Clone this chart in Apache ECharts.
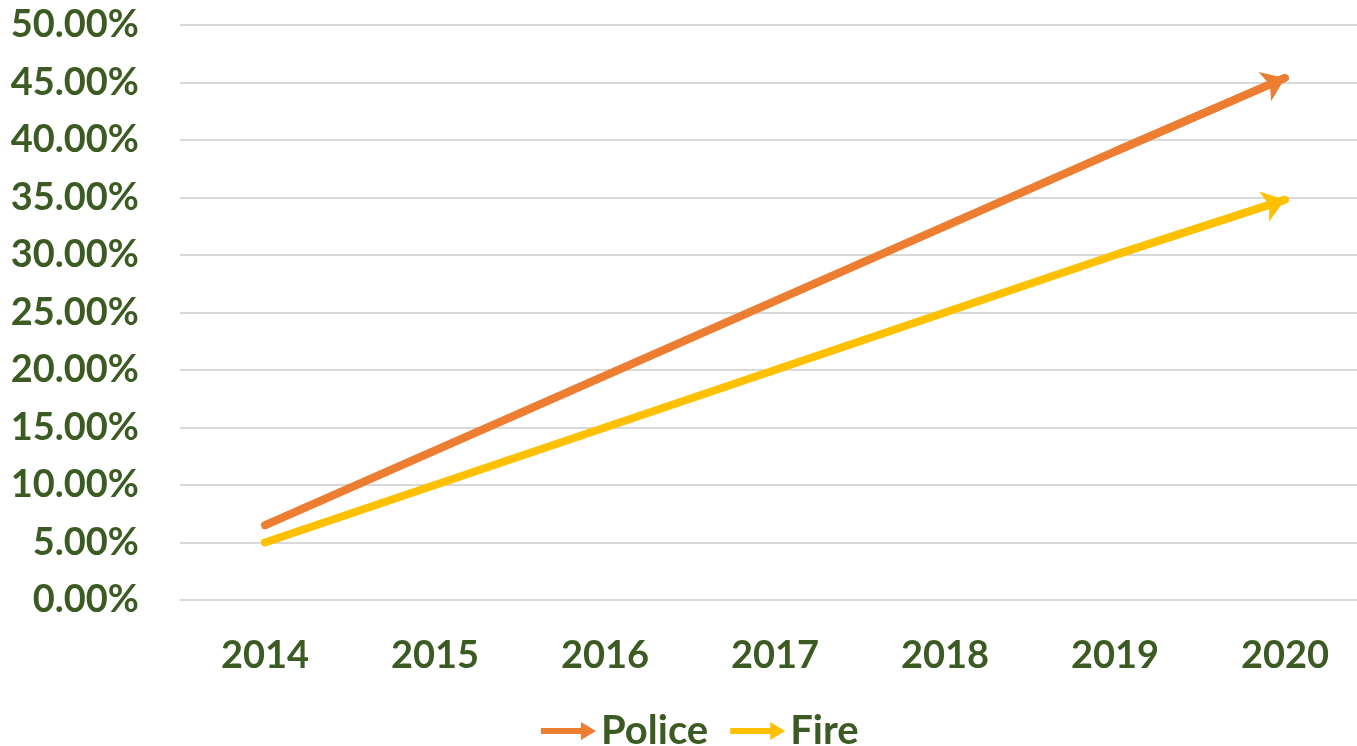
<!DOCTYPE html>
<html>
<head>
<meta charset="utf-8">
<script src="https://cdn.jsdelivr.net/npm/echarts@6/dist/echarts.min.js"></script>
<style>html,body{margin:0;padding:0;background:#fff}#c{width:1357px;height:746px}</style>
</head>
<body>
<div id="c"></div>
<script>
const categories = ['2014','2015','2016','2017','2018','2019','2020'];
const police = [6.5, 13.0, 19.5, 26.0, 32.5, 39.0, 45.4];
const fire = [5.0, 10.0, 15.0, 20.0, 25.0, 30.0, 34.8];
const yTicks = {min: 0, max: 50, interval: 5};

const textColor = '#3B5B22';
const font = 'Lato';
const arrowIcon = 'path://M0,6 L40,6 L40,0 L55,9 L40,18 L40,12 L0,12 Z';

function mkSeries(name, data, color) {
  const n = data.length;
  return {
    name: name, type: 'line', data: data,
    symbol: 'none', smooth: false,
    lineStyle: {color: color, width: 8, cap: 'round'},
    itemStyle: {color: color},
    emphasis: {disabled: true},
    markLine: {
      silent: true,
      symbol: ['none', 'arrow'],
      symbolSize: [24, 22],
      label: {show: false},
      lineStyle: {color: color, width: 8, type: 'solid'},
      emphasis: {disabled: true},
      data: [[{coord: [categories[n-2], data[n-2]]}, {coord: [categories[n-1], data[n-1]]}]]
    }
  };
}

const chart = echarts.init(document.getElementById('c'));
chart.setOption({
  animation: false,
  backgroundColor: '#fff',
  grid: {left: 180, width: 1190, top: 25, bottom: 146, containLabel: false, outerBoundsMode: 'none'},
  legend: {
    top: 706, left: 536,
    itemWidth: 55, itemHeight: 18, itemGap: 22,
    textStyle: {color: textColor, fontFamily: font, fontWeight: 'bold', fontSize: 40, padding: [0,0,0,0]},
    data: [
      {name: 'Police', icon: arrowIcon, itemStyle: {color: '#ED7D31'}},
      {name: 'Fire', icon: arrowIcon, itemStyle: {color: '#FFC000'}}
    ]
  },
  xAxis: {
    type: 'category', data: categories, boundaryGap: true,
    axisLine: {show: false},
    axisTick: {show: false},
    axisLabel: {color: textColor, fontFamily: font, fontWeight: 'bold', fontSize: 38, margin: 37}
  },
  yAxis: {
    type: 'value', min: yTicks.min, max: yTicks.max, interval: yTicks.interval,
    axisLine: {show: false}, axisTick: {show: false},
    splitLine: {lineStyle: {color: '#D9D9D9', width: 2}},
    axisLabel: {color: textColor, fontFamily: font, fontWeight: 'bold', fontSize: 38, margin: 41,
      formatter: v => v.toFixed(2) + '%'}
  },
  series: [mkSeries('Police', police, '#ED7D31'), mkSeries('Fire', fire, '#FFC000')]
});
</script>
</body>
</html>
